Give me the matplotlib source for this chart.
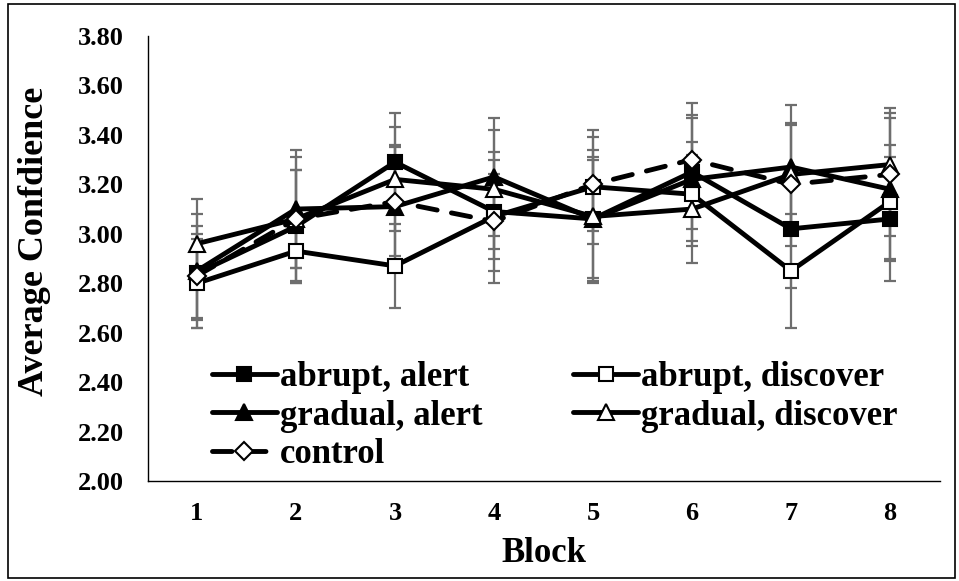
import matplotlib
matplotlib.use("Agg")
import matplotlib.pyplot as plt
from matplotlib.patches import Rectangle
import numpy as np

plt.rcParams['font.family'] = ['Liberation Serif', 'DejaVu Serif']
plt.rcParams['font.weight'] = 'bold'

blocks = [1, 2, 3, 4, 5, 6, 7, 8]

abrupt_alert = [2.84, 3.03, 3.29, 3.09, 3.06, 3.25, 3.02, 3.06]
abrupt_alert_err = [0.19, 0.23, 0.20, 0.24, 0.25, 0.23, 0.24, 0.25]

abrupt_discover = [2.80, 2.93, 2.87, 3.07, 3.19, 3.16, 2.85, 3.13]
abrupt_discover_err = [0.18, 0.13, 0.17, 0.17, 0.23, 0.21, 0.23, 0.23]

gradual_alert = [2.85, 3.10, 3.11, 3.23, 3.06, 3.22, 3.27, 3.18]
gradual_alert_err = [0.23, 0.24, 0.25, 0.24, 0.24, 0.25, 0.25, 0.29]

gradual_discover = [2.96, 3.06, 3.22, 3.18, 3.07, 3.10, 3.24, 3.28]
gradual_discover_err = [0.18, 0.20, 0.21, 0.24, 0.27, 0.22, 0.20, 0.23]

control = [2.83, 3.06, 3.13, 3.05, 3.20, 3.30, 3.20, 3.24]
control_err = [0.17, 0.25, 0.22, 0.25, 0.19, 0.23, 0.25, 0.25]

series = [
    ("abrupt, alert", abrupt_alert, abrupt_alert_err, dict(marker='s', ms=10, mfc='black')),
    ("abrupt, discover", abrupt_discover, abrupt_discover_err, dict(marker='s', ms=10, mfc='white')),
    ("gradual, alert", gradual_alert, gradual_alert_err, dict(marker='^', ms=11, mfc='black')),
    ("gradual, discover", gradual_discover, gradual_discover_err, dict(marker='^', ms=11, mfc='white')),
    ("control", control, control_err, dict(marker='D', ms=9, mfc='white', ls=(0, (4, 3)))),
]

fig = plt.figure(figsize=(9.59, 5.81), dpi=100)
ax = fig.add_axes([147.5 / 959, 100 / 581, 792 / 959, 445 / 581])

x = np.array(blocks)
handles = {}
for i, (name, vals, errs, style) in enumerate(series):
    ax.errorbar(x, vals, yerr=errs, fmt='none', ecolor='#6e6e6e', elinewidth=1.6,
                capsize=4.3, capthick=1.6, zorder=1)
    ls = style.pop('ls', '-')
    line, = ax.plot(x, vals, color='black', lw=3.5, ls=ls, mec='black', mew=1.5,
                    solid_capstyle='round', dash_capstyle='round',
                    zorder=3 + i, label=name, **style)
    handles[name] = line

ax.set_xlim(0.5, 8.5)
ax.set_ylim(2.0, 3.8)
ax.set_xticks(blocks)
ax.set_xticklabels([str(b) for b in blocks])
ax.set_yticks(np.arange(2.0, 3.81, 0.2))
ax.set_yticklabels([f"{v:.2f}" for v in np.arange(2.0, 3.81, 0.2)])
ax.tick_params(axis='both', length=0, labelsize=19)
ax.tick_params(axis='y', pad=17)
ax.tick_params(axis='x', pad=15)
for s in ['top', 'right']:
    ax.spines[s].set_visible(False)
for s in ['left', 'bottom']:
    ax.spines[s].set_linewidth(1.0)
    ax.spines[s].set_color('black')

ax.set_xlabel("Block", fontsize=25, fontweight='bold', labelpad=9)
ax.set_ylabel("Average Confdience", fontsize=26, fontweight='bold')
ax.yaxis.set_label_coords(-0.122, 0.539)

order = ["abrupt, alert", "gradual, alert", "control", "abrupt, discover", "gradual, discover"]
ax.legend([handles[n] for n in order], order, ncol=2, loc='upper left',
          bbox_to_anchor=(212 / 959, 1 - 361 / 581), bbox_transform=fig.transFigure,
          frameon=False, prop={'size': 25, 'weight': 'bold'}, handlelength=1.87,
          handletextpad=0.08, columnspacing=2.62, labelspacing=0.16,
          borderpad=0, borderaxespad=0)

fig.patches.append(Rectangle((8 / 959, 3 / 581), 947 / 959, 574 / 581, fill=False,
                             edgecolor='black', lw=1.2, transform=fig.transFigure))

fig.savefig("out.png", dpi=100)
